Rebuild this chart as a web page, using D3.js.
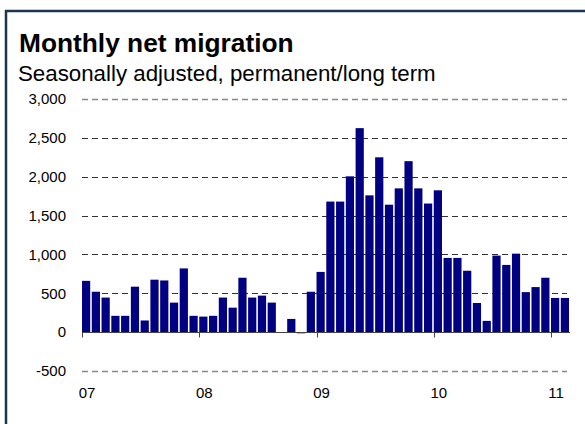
<!DOCTYPE html>
<html>
<head>
<meta charset="utf-8">
<script src="https://cdn.jsdelivr.net/npm/d3@7"></script>
<style>
  html, body { margin: 0; padding: 0; background: #fff; }
  svg { display: block; }
  text { font-family: "Liberation Sans", Arial, sans-serif; }
</style>
</head>
<body>
<svg id="chart" width="585" height="424"></svg>
<script>
// ---- data ----
const months = [
  "2007-01","2007-02","2007-03","2007-04","2007-05","2007-06","2007-07","2007-08","2007-09","2007-10","2007-11","2007-12",
  "2008-01","2008-02","2008-03","2008-04","2008-05","2008-06","2008-07","2008-08","2008-09","2008-10","2008-11","2008-12",
  "2009-01","2009-02","2009-03","2009-04","2009-05","2009-06","2009-07","2009-08","2009-09","2009-10","2009-11","2009-12",
  "2010-01","2010-02","2010-03","2010-04","2010-05","2010-06","2010-07","2010-08","2010-09","2010-10","2010-11","2010-12",
  "2011-01","2011-02"
];
const netMigration = [
  660, 520, 445, 210, 210, 585, 150, 675, 665, 380, 820, 210,
  200, 210, 445, 315, 700, 445, 470, 380, 0, 170, -15, 520,
  775, 1680, 1680, 2005, 2625, 1760, 2250, 1640, 1850, 2200, 1850, 1655,
  1825, 955, 955, 790, 375, 145, 985, 865, 1010, 515, 580, 700,
  440, 440
];
const yTicks = [-500, 0, 500, 1000, 1500, 2000, 2500, 3000];
const yTickLabels = ["-500", "0", "500", "1,000", "1,500", "2,000", "2,500", "3,000"];
const yearTicks = ["2007-01","2008-01","2009-01","2010-01","2011-01"];
const yearLabels = ["07","08","09","10","11"];

const title = "Monthly net migration";
const subtitle = "Seasonally adjusted, permanent/long term";

// ---- layout ----
const svg = d3.select("#chart");
const plotLeft = 82, plotRight = 569, plotTop = 99, plotBottom = 371;

const x = d3.scaleBand().domain(months).range([plotLeft, plotRight]).paddingInner(0.16).paddingOuter(0).align(0);
const y = d3.scaleLinear().domain([-500, 3000]).range([plotBottom, plotTop]);

// frame (top and left edges visible)
svg.append("line").attr("x1", 5).attr("x2", 585).attr("y1", 11).attr("y2", 11)
  .attr("stroke", "#1d3650").attr("stroke-width", 2.5);
svg.append("line").attr("x1", 6).attr("x2", 6).attr("y1", 10).attr("y2", 424)
  .attr("stroke", "#1d3650").attr("stroke-width", 2.5);

// titles
svg.append("text").attr("x", 19).attr("y", 52)
  .attr("font-size", 26.3).attr("font-weight", "bold")
  .attr("fill", "#000").text(title);
svg.append("text").attr("x", 18).attr("y", 80.5)
  .attr("font-size", 22.3)
  .attr("fill", "#000").text(subtitle);

// gridlines
const gridG = svg.append("g");
gridG.selectAll("line").data(yTicks.filter(d => d !== 0)).join("line")
  .attr("x1", plotLeft).attr("x2", plotRight - 2)
  .attr("y1", d => Math.round(y(d)) + 0.5).attr("y2", d => Math.round(y(d)) + 0.5)
  .attr("stroke", d => (d === 3000 || d === -500) ? "#888" : "#333")
  .attr("stroke-width", d => (d === 3000 || d === -500) ? 1.6 : 1)
  .attr("stroke-dasharray", "6,4");

// y-axis labels
svg.append("g").selectAll("text").data(yTicks).join("text")
  .attr("x", 66).attr("y", d => y(d))
  .attr("dy", "0.35em")
  .attr("text-anchor", "end")
  .attr("font-size", 15)
  .attr("fill", "#000")
  .text((d, i) => yTickLabels[i]);

// bars
svg.append("g").selectAll("rect").data(months).join("rect")
  .attr("x", d => x(d))
  .attr("width", x.bandwidth())
  .attr("y", (d, i) => y(Math.max(0, netMigration[i])))
  .attr("height", (d, i) => Math.abs(y(netMigration[i]) - y(0)))
  .attr("fill", "#000080");

// zero axis line with year ticks
const y0 = Math.round(y(0)) + 0.5;
svg.append("line").attr("x1", plotLeft).attr("x2", plotRight + 1).attr("y1", y0).attr("y2", y0)
  .attr("stroke", "#444").attr("stroke-width", 1);
svg.append("g").selectAll("line").data(yearTicks).join("line")
  .attr("x1", d => Math.round(x(d)) + 0.5).attr("x2", d => Math.round(x(d)) + 0.5)
  .attr("y1", y0).attr("y2", y0 + 5)
  .attr("stroke", "#444").attr("stroke-width", 1);

// x labels
svg.append("g").selectAll("text").data(yearTicks).join("text")
  .attr("x", d => x(d) + x.bandwidth() / 2 + 1)
  .attr("y", 398)
  .attr("text-anchor", "middle")
  .attr("font-size", 15)
  .attr("fill", "#000")
  .text((d, i) => yearLabels[i]);
</script>
</body>
</html>
